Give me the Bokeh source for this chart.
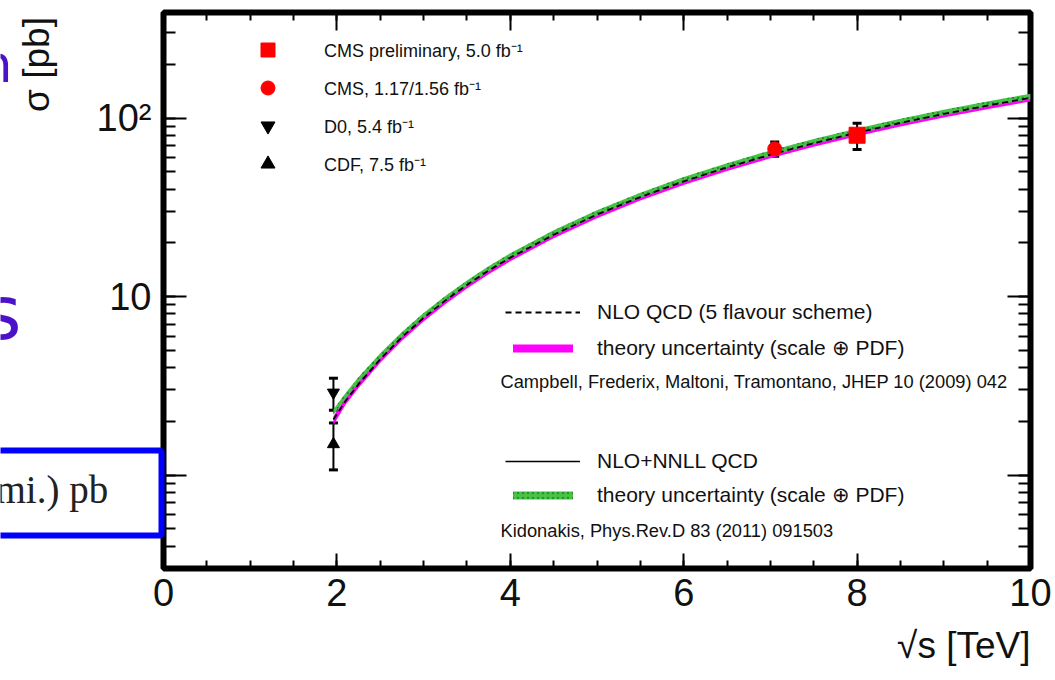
import numpy as np
from bokeh.plotting import figure
from bokeh.layouts import row
from bokeh.core.properties import value
from bokeh.models import (Range1d, LinearAxis, LogAxis, LogTicker, SingleIntervalTicker,
                          ColumnDataSource, Whisker, TeeHead, Legend, LegendItem, Label, Title)
from bokeh.embed import file_html
from bokeh.resources import INLINE

# ---------------- data ----------------
sqrt_s = [1.96, 2.1, 2.25, 2.5, 2.75, 3.0, 3.25, 3.5, 3.75, 4.0, 4.5, 5.0, 5.5,
          6.0, 6.5, 7.0, 7.5, 8.0, 8.5, 9.0, 9.5, 10.0]
# NLO+NNLL (Kidonakis) central and uncertainty band
nnll    = [2.25, 2.78, 3.42, 4.65, 6.12, 7.81, 9.73, 11.90, 14.30, 16.90, 22.70, 29.40, 36.90,
           45.10, 54.00, 63.60, 73.80, 84.50, 95.80, 107.50, 119.70, 132.20]
nnll_lo = [2.17, 2.68, 3.30, 4.49, 5.91, 7.54, 9.39, 11.48, 13.80, 16.31, 21.91, 28.37, 35.61,
           43.52, 52.11, 61.37, 71.22, 81.54, 92.45, 103.74, 115.51, 127.57]
nnll_hi = [2.33, 2.88, 3.54, 4.81, 6.33, 8.08, 10.07, 12.32, 14.80, 17.49, 23.49, 30.43, 38.19,
           46.68, 55.89, 65.83, 76.38, 87.46, 99.15, 111.26, 123.89, 136.83]
# NLO QCD (5 flavour scheme) central and uncertainty band
nlo    = [2.05, 2.60, 3.23, 4.46, 5.93, 7.60, 9.50, 11.63, 13.98, 16.52, 22.20, 28.80, 36.10,
          44.20, 52.90, 62.30, 72.30, 82.80, 93.90, 105.40, 117.30, 129.60]
nlo_lo = [1.90, 2.48, 3.08, 4.26, 5.66, 7.26, 9.07, 11.11, 13.35, 15.78, 21.20, 27.50, 34.50,
          42.20, 50.50, 59.50, 69.00, 79.10, 89.70, 100.70, 112.00, 123.80]
nlo_hi = [2.14, 2.72, 3.38, 4.66, 6.20, 7.94, 9.93, 12.15, 14.61, 17.26, 23.20, 30.10, 37.70,
          46.20, 55.30, 65.10, 75.60, 86.50, 98.10, 110.10, 122.60, 135.40]

# measurements
cms_prelim_x, cms_prelim_y, cms_prelim_err = [8.0], [80.1], [13.5]
cms_x, cms_y, cms_err = [7.05], [67.2], [6.1]
d0_x, d0_y, d0_lo, d0_hi = [1.96], [2.90], [2.31], [3.49]
cdf_x, cdf_y, cdf_lo, cdf_hi = [1.96], [1.49], [1.07], [1.96]

y_tick_labels = {1: "", 10: "10", 100: "10²"}

FONT = "Liberation Sans"

# ---------------- figure ----------------
p = figure(width=1055, height=680, x_range=Range1d(0, 10), y_range=Range1d(0.3, 390),
           y_axis_type="log", output_backend="svg", toolbar_location=None,
           min_border_left=163, min_border_right=25, min_border_top=12, min_border_bottom=112,
           background_fill_color="white", border_fill_color="white")
p.margin = (0, 0, 0, 0)
p.grid.visible = False
p.outline_line_color = "black"
p.outline_line_width = 6

def common(ax, labels):
    ax.axis_line_color = None
    ax.major_tick_out = 0
    ax.minor_tick_out = 0
    ax.major_tick_line_width = 2
    ax.minor_tick_line_width = 2
    ax.major_tick_line_color = "black"
    ax.minor_tick_line_color = "black"
    if labels:
        ax.major_label_text_font = FONT
        ax.major_label_text_font_size = "38px"
        ax.major_label_text_color = "#111111"
    else:
        ax.major_label_text_font_size = "4px"
        ax.major_label_text_color = None
        ax.major_label_standoff = 0

def style_x(ax, labels=True, major_in=15):
    ax.ticker = SingleIntervalTicker(interval=2, num_minor_ticks=4)
    ax.major_tick_in = major_in
    ax.minor_tick_in = 8
    common(ax, labels)
    if labels:
        ax.major_label_standoff = 10

def style_y(ax, labels=True):
    ax.ticker = LogTicker(num_minor_ticks=10)
    ax.major_tick_in = 23
    ax.minor_tick_in = 12
    common(ax, labels)
    if labels:
        ax.major_label_standoff = 12
        ax.major_label_overrides = y_tick_labels

style_x(p.xaxis[0])
style_y(p.yaxis[0])
top_ax = LinearAxis()
style_x(top_ax, labels=False, major_in=18)
p.add_layout(top_ax, "above")
right_ax = LogAxis()
style_y(right_ax, labels=False)
p.add_layout(right_ax, "right")

# x-axis title as a side-panel title
p.add_layout(Title(text="√s [TeV]", align="right", text_font=FONT, text_font_size="37px",
                   text_font_style="normal", text_color="#111111", standoff=28), "below")

# ---------------- theory curves ----------------
mag = p.varea(x=sqrt_s, y1=nlo_lo, y2=nlo_hi, fill_color="#ff00ff")
solid = p.line(sqrt_s, nnll, line_color="black", line_width=1.5)
green = p.varea(x=sqrt_s, y1=nnll_lo, y2=nnll_hi, fill_color="#45c445",
                hatch_pattern="dot", hatch_color="#1f5f1f", hatch_alpha=0.55, hatch_scale=5)
dashed = p.line(sqrt_s, nlo, line_color="black", line_width=1.8, line_dash="6 4")

# ---------------- measurements ----------------
def whisk(x, lo, hi):
    src = ColumnDataSource(dict(x=x, lo=lo, hi=hi))
    w = Whisker(base="x", lower="lo", upper="hi", source=src, line_color="black", line_width=2,
                upper_head=TeeHead(size=9, line_width=3, line_color="black"),
                lower_head=TeeHead(size=9, line_width=3, line_color="black"))
    p.add_layout(w)

whisk(cms_prelim_x, [v - e for v, e in zip(cms_prelim_y, cms_prelim_err)],
      [v + e for v, e in zip(cms_prelim_y, cms_prelim_err)])
whisk(cms_x, [v - e for v, e in zip(cms_y, cms_err)], [v + e for v, e in zip(cms_y, cms_err)])
whisk(d0_x, d0_lo, d0_hi)
whisk(cdf_x, cdf_lo, cdf_hi)

r_sq = p.scatter(cms_prelim_x, cms_prelim_y, marker="square", size=16, fill_color="red", line_color="red")
r_ci = p.scatter(cms_x, cms_y, marker="circle", size=14, fill_color="red", line_color="red")
r_d0 = p.scatter(d0_x, d0_y, marker="inverted_triangle", size=12, fill_color="black", line_color="black")
r_cdf = p.scatter(cdf_x, cdf_y, marker="triangle", size=12, fill_color="black", line_color="black")

# ---------------- legends ----------------
def make_legend(items, loc, gw, gh, lh, spacing, standoff, fs):
    lg = Legend(items=items, location=loc, orientation="vertical",
                glyph_width=gw, glyph_height=gh, label_height=lh, spacing=spacing,
                label_standoff=standoff, padding=0, margin=0,
                border_line_color=None, background_fill_alpha=0,
                label_text_font=FONT, label_text_font_size=fs, label_text_color="#111111")
    p.add_layout(lg)
    return lg

make_legend([LegendItem(label="CMS preliminary, 5.0 fb⁻¹", renderers=[r_sq]),
             LegendItem(label="CMS, 1.17/1.56 fb⁻¹", renderers=[r_ci]),
             LegendItem(label="D0, 5.4 fb⁻¹", renderers=[r_d0]),
             LegendItem(label="CDF, 7.5 fb⁻¹", renderers=[r_cdf])],
            (87, 387), 35, 35, 35, 3, 39, "18px")

make_legend([LegendItem(label="NLO QCD (5 flavour scheme)", renderers=[dashed]),
             LegendItem(label="theory uncertainty (scale ⊕ PDF)", renderers=[mag])],
            (342, 208), 75, 10, 25, 11, 17, "21px")
make_legend([LegendItem(label="NLO+NNLL QCD", renderers=[solid]),
             LegendItem(label="theory uncertainty (scale ⊕ PDF)", renderers=[green])],
            (342, 61), 75, 10, 25, 9, 17, "21px")

def lab(text, x, y, fs):
    p.add_layout(Label(x=x, y=y, x_units="screen", y_units="screen", text=text,
                       text_font=FONT, text_font_size=fs, text_color="#111111",
                       text_baseline="middle"))

# citations (frame-relative screen coordinates)
lab("Campbell, Frederix, Maltoni, Tramontano, JHEP 10 (2009) 042", 337, 187, "18.3px")
lab("Kidonakis, Phys.Rev.D 83 (2011) 091503", 337, 38, "18.3px")

# ---------------- overlay: y-axis title and fragments of the surrounding slide ----------------
# y range follows the canvas pixels of the (row-aligned) frame, 12..568
ov = figure(width=1055, height=680, x_range=Range1d(0, 1055), y_range=Range1d(568, 12),
            output_backend="svg", toolbar_location=None, min_border=0,
            x_axis_location=None, y_axis_location=None,
            background_fill_color=None, border_fill_color=None, outline_line_color=None)
ov.grid.visible = False
ov.margin = (0, 0, 0, -1055)

ov.add_layout(Label(x=36, y=64, text="σ [pb]", angle=np.pi / 2, text_align="center",
                    text_baseline="middle", text_font=FONT, text_font_size="37px",
                    text_color="#111111"))

ov.quad(left=[-10], right=[161], top=[450], bottom=[535], fill_color="white",
        line_color="#0000ff", line_width=6)
ov.text(x=[-5], y=[489], text=["mi.) pb"], text_font=value("Liberation Serif"),
        text_font_size="39px", text_baseline="alphabetic", text_color="#222222")
ov.text(x=[12], y=[63], text=["n"], text_font=value("DejaVu Sans"), text_font_size="52px",
        text_align="right", text_baseline="alphabetic", text_color="#4b12c8")
ov.text(x=[21], y=[312], text=["s"], text_font=value("DejaVu Sans"), text_font_size="75px",
        text_align="right", text_baseline="alphabetic", text_color="#4b12c8")

layout = row(p, ov)
open("out.html", "w").write(file_html(layout, INLINE))
